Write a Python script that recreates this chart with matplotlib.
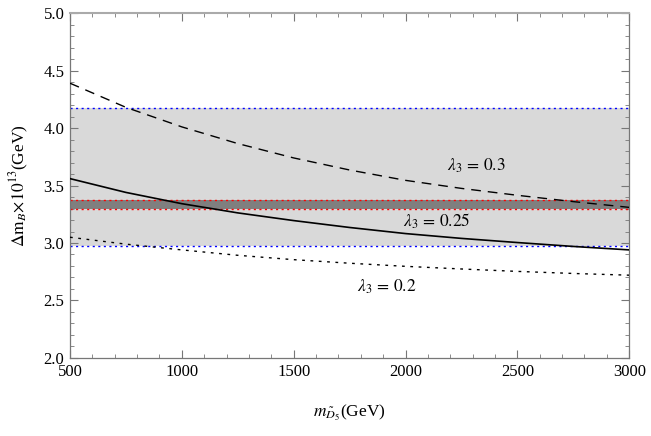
import numpy as np
import matplotlib
matplotlib.use("Agg")
import matplotlib.pyplot as plt
from matplotlib.ticker import MultipleLocator, FormatStrFormatter

# === Data ===
m = [500, 750, 1000, 1250, 1500, 1750, 2000, 2250, 2500, 2750, 3000]
dm_l030 = [4.39, 4.18, 4.01, 3.865, 3.74, 3.635, 3.545, 3.475, 3.415, 3.36, 3.31]
dm_l025 = [3.56, 3.44, 3.342, 3.262, 3.195, 3.135, 3.082, 3.04, 3.004, 2.97, 2.94]
dm_l020 = [3.05, 2.99, 2.94, 2.893, 2.855, 2.824, 2.797, 2.774, 2.753, 2.735, 2.72]

wide_band = (2.97, 4.17)
narrow_band = (3.30, 3.372)

labels = [r"$\lambda_3\,=\,0.3$", r"$\lambda_3\,=\,0.25$", r"$\lambda_3\,=\,0.2$"]
label_pos = [(2316, 3.67), (2141, 3.19), (1918, 2.62)]

plt.rcParams["font.family"] = ["Liberation Serif", "DejaVu Serif"]
plt.rcParams["mathtext.fontset"] = "stix"

fig = plt.figure(figsize=(6.51, 4.36), dpi=100)
ax = fig.add_axes([0.1075, 0.179, 0.859, 0.791])

# --- bands ---
ax.axhspan(*wide_band, color="#d9d9d9", lw=0, zorder=0)
ax.axhspan(*narrow_band, color="#7f7f7f", lw=0, zorder=1)
for yv in wide_band:
    ax.axhline(yv, color="blue", ls=(0, (1.5, 2.5)), lw=1.0, zorder=2)
for yv in narrow_band:
    ax.axhline(yv, color="red", ls=(0, (1.5, 2.5)), lw=1.0, zorder=2)

# --- curves ---
ax.plot(m, dm_l030, color="black", lw=1.0, ls=(0, (7, 5)), zorder=3)
ax.plot(m, dm_l025, color="black", lw=1.2, ls="-", zorder=3)
ax.plot(m, dm_l020, color="black", lw=1.0, ls=(0, (2, 4)), zorder=3)

for txt, (xp, yp) in zip(labels, label_pos):
    ax.text(xp, yp, txt, ha="center", va="center", fontsize=12.5)

ax.set_xlim(500, 3000)
ax.set_ylim(2.0, 5.0)
ax.xaxis.set_major_locator(MultipleLocator(500))
ax.xaxis.set_minor_locator(MultipleLocator(100))
ax.yaxis.set_major_locator(MultipleLocator(0.5))
ax.yaxis.set_minor_locator(MultipleLocator(0.1))
ax.yaxis.set_major_formatter(FormatStrFormatter("%.1f"))

ax.tick_params(which="both", direction="in", top=True, right=True,
               color="#777777", labelsize=12, pad=4)
ax.tick_params(which="major", length=6, width=0.8)
ax.tick_params(which="minor", length=3, width=0.6)
for sp in ax.spines.values():
    sp.set_color("#777777")
    sp.set_linewidth(0.9)
ax.spines["top"].set_color("#aaaaaa")
ax.spines["top"].set_linewidth(1.5)

ax.set_xlabel(r"$m_{\tilde{D}_5}$(GeV)", fontsize=12.5, labelpad=17)
ax.set_ylabel(r"$\Delta\mathrm{m}_B\!\times\!10^{13}$(GeV)", fontsize=12.5, labelpad=9)

fig.savefig("out.png", dpi=100)
